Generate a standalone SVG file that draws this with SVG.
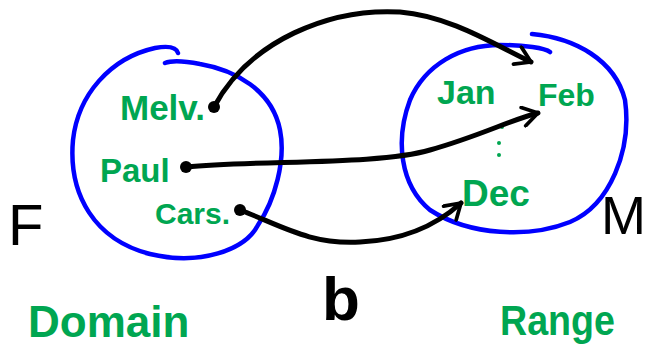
<svg xmlns="http://www.w3.org/2000/svg" width="654" height="353" viewBox="0 0 654 353">
<style>
.set{fill:none;stroke:#0000ff;stroke-width:4.5;stroke-linecap:round;stroke-linejoin:round}
.lbl{font-family:"Liberation Sans","DejaVu Sans",sans-serif;font-weight:bold;fill:#00a651}
.big{font-family:"Liberation Sans","DejaVu Sans",sans-serif;fill:#000}
.edge{fill:none;stroke:#000;stroke-width:5;stroke-linecap:round}
.dot{fill:#000}
</style>
<defs>
<marker id="arr" viewBox="0 0 12 12" refX="10" refY="6" markerWidth="4.5" markerHeight="4.5" orient="auto" markerUnits="strokeWidth">
<polyline points="2,1 10,6 2,11" fill="none" stroke="#000" stroke-width="2" stroke-linecap="round" stroke-linejoin="round"/>
</marker>
</defs>
<rect width="654" height="353" fill="#fff"/>
<g id="setF">
<path class="set" d="M178,53 C176,46 166,46 155,48 C110,58 78,95 73,140 C68,195 95,240 150,254 C200,266 245,250 258,225 C275,200 286,160 280,130 C272,90 235,70 200,64 C185,61 172,60 165,63"/>
</g>
<g id="setM">
<path class="set" d="M532,34 C575,38 615,60 625,100 C632,150 610,205 570,222 C530,238 470,236 430,210 C400,185 395,140 410,100 C425,65 460,45 500,45 C525,45 545,48 550,52"/>
</g>
<g id="melv"><text class="lbl" x="120" y="120" font-size="35">Melv.</text><circle class="dot" cx="214" cy="107" r="6"/></g>
<g id="paul"><text class="lbl" x="100" y="182" font-size="33">Paul</text><circle class="dot" cx="186" cy="167" r="6"/></g>
<g id="cars"><text class="lbl" x="155" y="224" font-size="30">Cars.</text><circle class="dot" cx="240" cy="210" r="6"/></g>
<g id="jan"><text class="lbl" x="437" y="104" font-size="34">Jan</text></g>
<g id="feb"><text class="lbl" x="538" y="106" font-size="32">Feb</text></g>
<g id="vdots"><circle cx="502" cy="127" r="2" fill="#00a651"/><circle cx="499" cy="143" r="2" fill="#00a651"/><circle cx="499" cy="155" r="2" fill="#00a651"/></g>
<g id="dec"><text class="lbl" x="462" y="206" font-size="37">Dec</text></g>
<g id="F"><text class="big" x="8" y="245" font-size="58">F</text></g>
<g id="M"><text class="big" x="601" y="234" font-size="54">M</text></g>
<g id="domain"><text class="lbl" x="28" y="337" font-size="44">Domain</text></g>
<g id="b"><text class="big" x="322" y="320" font-size="62" font-weight="bold">b</text></g>
<g id="range"><text class="lbl" x="500" y="335" font-size="42" textLength="115" lengthAdjust="spacingAndGlyphs">Range</text></g>
<g id="connectors">
<path class="edge" marker-end="url(#arr)" d="M214,107 C250,40 330,8 400,12 C450,16 495,45 531,62"/>
<path class="edge" marker-end="url(#arr)" d="M186,167 C260,160 380,165 430,150 C480,136 510,120 538,113"/>
<path class="edge" marker-end="url(#arr)" d="M240,210 C280,225 310,245 360,242 C410,240 440,222 461,203"/>
</g>
</svg>
